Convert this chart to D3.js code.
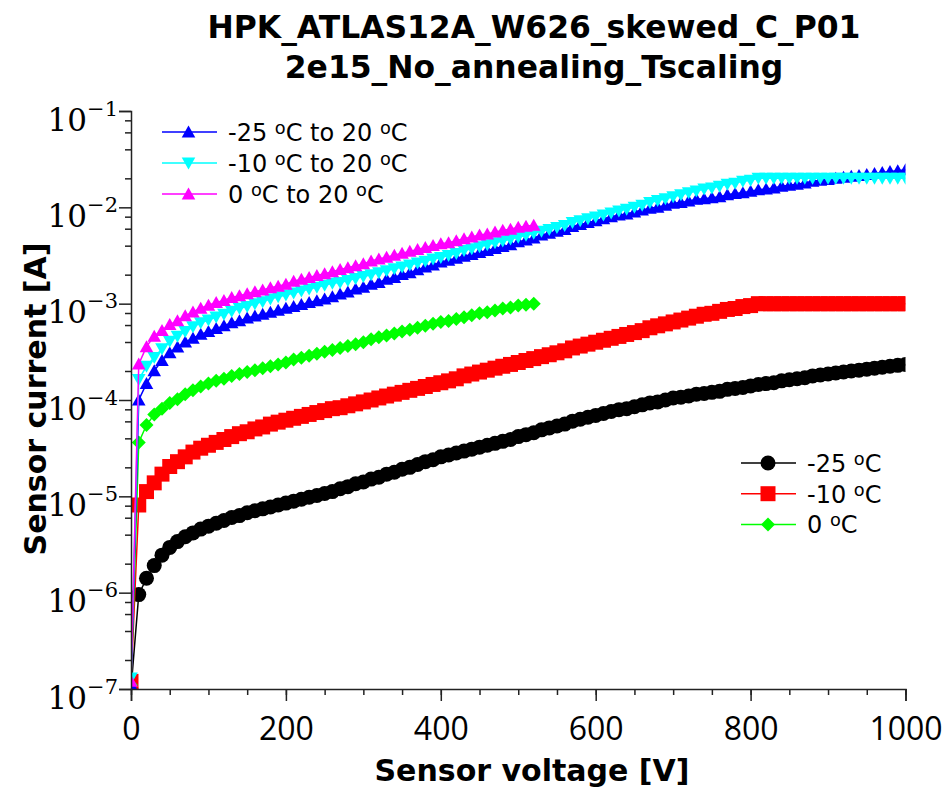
<!DOCTYPE html>
<html>
<head>
<meta charset="utf-8">
<script src="https://cdn.jsdelivr.net/npm/d3@7"></script>
<style>
  body { margin: 0; background: #fff; }
  svg { display: block; }
</style>
</head>
<body>
<script>
// bias voltage scan [V], 10 V steps
const voltage = [0, 10, 20, 30, 40, 50, 60, 70, 80, 90, 100, 110, 120, 130, 140, 150, 160, 170, 180, 190,
  200, 210, 220, 230, 240, 250, 260, 270, 280, 290, 300, 310, 320, 330, 340, 350, 360, 370, 380, 390,
  400, 410, 420, 430, 440, 450, 460, 470, 480, 490, 500, 510, 520, 530, 540, 550, 560, 570, 580, 590,
  600, 610, 620, 630, 640, 650, 660, 670, 680, 690, 700, 710, 720, 730, 740, 750, 760, 770, 780, 790,
  800, 810, 820, 830, 840, 850, 860, 870, 880, 890, 900, 910, 920, 930, 940, 950, 960, 970, 980, 990, 1000];

// measured currents [A]
const curM25 = [1.0e-7, 9.55e-7, 1.41e-6, 1.91e-6, 2.45e-6, 2.95e-6, 3.39e-6, 3.80e-6, 4.17e-6, 4.57e-6,
  4.90e-6, 5.25e-6, 5.62e-6, 6.03e-6, 6.31e-6, 6.76e-6, 7.08e-6, 7.41e-6, 7.76e-6, 8.13e-6,
  8.51e-6, 8.91e-6, 9.33e-6, 9.77e-6, 1.02e-5, 1.07e-5, 1.12e-5, 1.20e-5, 1.26e-5, 1.35e-5,
  1.41e-5, 1.51e-5, 1.58e-5, 1.70e-5, 1.78e-5, 1.91e-5, 2.00e-5, 2.14e-5, 2.29e-5, 2.40e-5,
  2.57e-5, 2.69e-5, 2.82e-5, 2.95e-5, 3.09e-5, 3.24e-5, 3.39e-5, 3.55e-5, 3.72e-5, 3.89e-5,
  4.17e-5, 4.37e-5, 4.57e-5, 4.90e-5, 5.13e-5, 5.37e-5, 5.62e-5, 6.03e-5, 6.31e-5, 6.61e-5,
  6.92e-5, 7.24e-5, 7.59e-5, 7.94e-5, 8.13e-5, 8.51e-5, 8.91e-5, 9.33e-5, 9.55e-5, 1.00e-4,
  1.05e-4, 1.07e-4, 1.10e-4, 1.15e-4, 1.17e-4, 1.20e-4, 1.23e-4, 1.29e-4, 1.32e-4, 1.35e-4,
  1.40e-4, 1.45e-4, 1.48e-4, 1.51e-4, 1.58e-4, 1.62e-4, 1.66e-4, 1.70e-4, 1.78e-4, 1.82e-4,
  1.86e-4, 1.91e-4, 1.95e-4, 2.00e-4, 2.04e-4, 2.09e-4, 2.14e-4, 2.19e-4, 2.24e-4, 2.29e-4, 2.34e-4];

const curM10 = [1.2e-7, 8.13e-6, 1.12e-5, 1.38e-5, 1.70e-5, 2.04e-5, 2.29e-5, 2.57e-5, 2.88e-5, 3.16e-5,
  3.39e-5, 3.63e-5, 3.89e-5, 4.17e-5, 4.47e-5, 4.68e-5, 5.01e-5, 5.25e-5, 5.62e-5, 5.89e-5,
  6.17e-5, 6.46e-5, 6.76e-5, 7.08e-5, 7.41e-5, 7.76e-5, 8.13e-5, 8.32e-5, 8.71e-5, 9.12e-5,
  9.55e-5, 1.00e-4, 1.05e-4, 1.10e-4, 1.15e-4, 1.20e-4, 1.26e-4, 1.32e-4, 1.38e-4, 1.45e-4,
  1.51e-4, 1.58e-4, 1.66e-4, 1.78e-4, 1.86e-4, 1.95e-4, 2.04e-4, 2.14e-4, 2.24e-4, 2.34e-4,
  2.45e-4, 2.57e-4, 2.69e-4, 2.82e-4, 2.95e-4, 3.09e-4, 3.24e-4, 3.47e-4, 3.63e-4, 3.80e-4,
  3.98e-4, 4.17e-4, 4.37e-4, 4.57e-4, 4.79e-4, 5.01e-4, 5.25e-4, 5.62e-4, 5.89e-4, 6.17e-4,
  6.46e-4, 6.76e-4, 7.08e-4, 7.41e-4, 7.76e-4, 7.94e-4, 8.32e-4, 8.71e-4, 8.91e-4, 9.33e-4,
  9.55e-4, 1.00e-3, 1.00e-3, 1.00e-3, 1.00e-3, 1.00e-3, 1.00e-3, 1.00e-3, 1.00e-3, 1.00e-3,
  1.00e-3, 1.00e-3, 1.00e-3, 1.00e-3, 1.00e-3, 1.00e-3, 1.00e-3, 1.00e-3, 1.00e-3, 1.00e-3, 1.00e-3];

const cur0 = [1.1e-7, 3.63e-5, 5.50e-5, 7.08e-5, 8.13e-5, 9.33e-5, 1.02e-4, 1.15e-4, 1.26e-4, 1.38e-4,
  1.48e-4, 1.58e-4, 1.66e-4, 1.78e-4, 1.86e-4, 1.95e-4, 2.04e-4, 2.14e-4, 2.24e-4, 2.34e-4,
  2.45e-4, 2.63e-4, 2.75e-4, 2.88e-4, 3.02e-4, 3.16e-4, 3.31e-4, 3.47e-4, 3.63e-4, 3.80e-4,
  3.98e-4, 4.27e-4, 4.47e-4, 4.68e-4, 4.90e-4, 5.13e-4, 5.37e-4, 5.62e-4, 5.89e-4, 6.17e-4,
  6.46e-4, 6.61e-4, 6.92e-4, 7.24e-4, 7.59e-4, 7.94e-4, 8.13e-4, 8.51e-4, 8.91e-4, 9.12e-4,
  9.55e-4, 9.77e-4, 1.00e-3];

// currents scaled to 20 C [A]
const scaledM25 = [1.1e-7, 1.00e-4, 1.48e-4, 2.01e-4, 2.57e-4, 3.10e-4, 3.56e-4, 3.99e-4, 4.38e-4, 4.80e-4,
  5.15e-4, 5.51e-4, 5.90e-4, 6.33e-4, 6.63e-4, 7.10e-4, 7.43e-4, 7.78e-4, 8.15e-4, 8.54e-4,
  8.94e-4, 9.36e-4, 9.80e-4, 1.03e-3, 1.07e-3, 1.12e-3, 1.18e-3, 1.26e-3, 1.32e-3, 1.42e-3,
  1.48e-3, 1.59e-3, 1.66e-3, 1.79e-3, 1.87e-3, 2.01e-3, 2.10e-3, 2.25e-3, 2.40e-3, 2.52e-3,
  2.70e-3, 2.82e-3, 2.96e-3, 3.10e-3, 3.24e-3, 3.40e-3, 3.56e-3, 3.73e-3, 3.91e-3, 4.08e-3,
  4.38e-3, 4.59e-3, 4.80e-3, 5.15e-3, 5.39e-3, 5.64e-3, 5.90e-3, 6.33e-3, 6.63e-3, 6.94e-3,
  7.27e-3, 7.60e-3, 7.97e-3, 8.34e-3, 8.54e-3, 8.94e-3, 9.36e-3, 9.80e-3, 1.00e-2, 1.05e-2,
  1.10e-2, 1.12e-2, 1.16e-2, 1.21e-2, 1.23e-2, 1.26e-2, 1.29e-2, 1.35e-2, 1.39e-2, 1.42e-2,
  1.47e-2, 1.52e-2, 1.55e-2, 1.59e-2, 1.66e-2, 1.70e-2, 1.74e-2, 1.79e-2, 1.87e-2, 1.91e-2,
  1.95e-2, 2.01e-2, 2.05e-2, 2.10e-2, 2.14e-2, 2.19e-2, 2.25e-2, 2.30e-2, 2.35e-2, 2.40e-2, 2.46e-2];

const scaledM10 = [1.3e-7, 1.63e-4, 2.24e-4, 2.76e-4, 3.40e-4, 4.08e-4, 4.58e-4, 5.14e-4, 5.76e-4, 6.32e-4,
  6.78e-4, 7.26e-4, 7.78e-4, 8.34e-4, 8.94e-4, 9.36e-4, 1.00e-3, 1.05e-3, 1.12e-3, 1.18e-3,
  1.23e-3, 1.29e-3, 1.35e-3, 1.42e-3, 1.48e-3, 1.55e-3, 1.63e-3, 1.66e-3, 1.74e-3, 1.82e-3,
  1.91e-3, 2.00e-3, 2.10e-3, 2.20e-3, 2.30e-3, 2.40e-3, 2.52e-3, 2.64e-3, 2.76e-3, 2.90e-3,
  3.02e-3, 3.16e-3, 3.32e-3, 3.56e-3, 3.72e-3, 3.90e-3, 4.08e-3, 4.28e-3, 4.48e-3, 4.68e-3,
  4.90e-3, 5.14e-3, 5.38e-3, 5.64e-3, 5.90e-3, 6.18e-3, 6.48e-3, 6.94e-3, 7.26e-3, 7.60e-3,
  7.96e-3, 8.34e-3, 8.74e-3, 9.14e-3, 9.58e-3, 1.00e-2, 1.05e-2, 1.12e-2, 1.18e-2, 1.23e-2,
  1.29e-2, 1.35e-2, 1.42e-2, 1.48e-2, 1.55e-2, 1.59e-2, 1.66e-2, 1.74e-2, 1.78e-2, 1.87e-2,
  1.91e-2, 2.00e-2, 2.00e-2, 2.00e-2, 2.00e-2, 2.00e-2, 2.00e-2, 2.00e-2, 2.00e-2, 2.00e-2,
  2.00e-2, 2.00e-2, 2.00e-2, 2.00e-2, 2.00e-2, 2.00e-2, 2.00e-2, 2.00e-2, 2.00e-2, 2.00e-2, 2.00e-2];

const scaled0 = [1.2e-7, 2.36e-4, 3.58e-4, 4.60e-4, 5.28e-4, 6.06e-4, 6.63e-4, 7.48e-4, 8.19e-4, 8.97e-4,
  9.62e-4, 1.03e-3, 1.08e-3, 1.16e-3, 1.21e-3, 1.27e-3, 1.33e-3, 1.39e-3, 1.46e-3, 1.52e-3,
  1.59e-3, 1.71e-3, 1.79e-3, 1.87e-3, 1.96e-3, 2.05e-3, 2.15e-3, 2.26e-3, 2.36e-3, 2.47e-3,
  2.59e-3, 2.78e-3, 2.91e-3, 3.04e-3, 3.19e-3, 3.33e-3, 3.49e-3, 3.65e-3, 3.83e-3, 4.01e-3,
  4.20e-3, 4.30e-3, 4.50e-3, 4.71e-3, 4.93e-3, 5.16e-3, 5.28e-3, 5.53e-3, 5.79e-3, 5.93e-3,
  6.21e-3, 6.35e-3, 6.50e-3];

const xMajorTicks = [0, 200, 400, 600, 800, 1000];
const yExponents = [-7, -6, -5, -4, -3, -2, -1];
const titleLines = ['HPK_ATLAS12A_W626_skewed_C_P01', '2e15_No_annealing_Tscaling'];

const width = 946;
const height = 790;
const plot = { left: 131, right: 905.5, top: 111, bottom: 689 };

const svg = d3.select('body').append('svg')
  .attr('width', width)
  .attr('height', height);

const x = d3.scaleLinear().domain([0, 1000]).range([plot.left, plot.right]);
const y = d3.scaleLog().domain([1e-7, 1e-1]).range([plot.bottom, plot.top]);

// marker shapes, centred on the point
const markers = {
  circle: 'M7.5,0A7.5,7.5 0 1,1 -7.5,0A7.5,7.5 0 1,1 7.5,0Z',
  square: 'M-7.5,-7.5H7.5V7.5H-7.5Z',
  diamond: 'M0,-7L7,0L0,7L-7,0Z',
  triUp: 'M0,-6.5L6.8,5.5L-6.8,5.5Z',
  triDown: 'M0,6.5L6.8,-5.5L-6.8,-5.5Z'
};

// drawing order matches the original canvas
const series = [
  { label: '-25 ºC', values: curM25, color: '#000000', marker: 'circle', legend: 2, row: 0 },
  { label: '-10 ºC', values: curM10, color: '#ff0000', marker: 'square', legend: 2, row: 1 },
  { label: '0 ºC', values: cur0, color: '#00ff00', marker: 'diamond', legend: 2, row: 2 },
  { label: '-25 ºC to 20 ºC', values: scaledM25, color: '#0000ff', marker: 'triUp', legend: 1, row: 0 },
  { label: '-10 ºC to 20 ºC', values: scaledM10, color: '#00ffff', marker: 'triDown', legend: 1, row: 1 },
  { label: '0 ºC to 20 ºC', values: scaled0, color: '#ff00ff', marker: 'triUp', legend: 1, row: 2 }
];

svg.append('defs').append('clipPath')
  .attr('id', 'frame')
  .append('rect')
  .attr('x', plot.left)
  .attr('y', plot.top - 20)
  .attr('width', plot.right - plot.left)
  .attr('height', plot.bottom - plot.top + 20);

const dataLayer = svg.append('g').attr('clip-path', 'url(#frame)');

const line = d3.line()
  .x(d => x(d[0]))
  .y(d => y(d[1]));

series.forEach(s => {
  const pts = s.values.map((v, i) => [voltage[i], v]);
  const g = dataLayer.append('g');
  g.append('path')
    .datum(pts)
    .attr('d', line)
    .attr('fill', 'none')
    .attr('stroke', s.color)
    .attr('stroke-width', 1.5);
  g.selectAll('path.mk')
    .data(pts)
    .enter().append('path')
    .attr('class', 'mk')
    .attr('d', markers[s.marker])
    .attr('transform', d => 'translate(' + x(d[0]) + ',' + y(d[1]) + ')')
    .attr('fill', s.color);
});

// x axis: minor ticks every 50 V, labelled majors every 200 V
const tickFont = '"Open Sans", "Liberation Sans", sans-serif';
const legendFont = '"DejaVu Sans", Verdana, sans-serif';

svg.append('g')
  .attr('transform', 'translate(0,' + plot.bottom + ')')
  .call(d3.axisBottom(x).tickValues(d3.range(0, 1001, 50)).tickSize(6).tickFormat(''))
  .call(g => g.select('.domain').remove());

const xAxis = svg.append('g')
  .attr('transform', 'translate(0,' + plot.bottom + ')')
  .call(d3.axisBottom(x).tickValues(xMajorTicks).tickFormat(d3.format('d'))
    .tickSizeOuter(0).tickSize(12).tickPadding(16));
xAxis.selectAll('text')
  .attr('font-family', tickFont)
  .attr('font-size', 32)
  .attr('fill', '#000');

// y axis: decades with minors at 2,4,6,8
const yMinor = [];
yExponents.slice(0, -1).forEach(e => {
  [2, 4, 6, 8].forEach(m => yMinor.push(m * Math.pow(10, e)));
});
svg.append('g')
  .attr('transform', 'translate(' + plot.left + ',0)')
  .call(d3.axisLeft(y).tickValues(yMinor).tickSize(6).tickFormat(''))
  .call(g => g.select('.domain').remove());

const yAxis = svg.append('g')
  .attr('transform', 'translate(' + plot.left + ',0)')
  .call(d3.axisLeft(y).tickValues(yExponents.map(e => Math.pow(10, e))).tickSizeOuter(0).tickSize(12).tickFormat(''));

yAxis.selectAll('.tick').each(function (d) {
  const t = d3.select(this).append('text')
    .attr('x', -13)
    .attr('y', 19)
    .attr('text-anchor', 'end')
    .attr('font-family', '"DejaVu Serif", "Liberation Serif", serif')
    .attr('fill', '#000');
  t.append('tspan').attr('font-size', 31).text('10');
  t.append('tspan').attr('font-size', 21).attr('dy', -15)
    .text('\u2212' + Math.round(-Math.log10(d)));
});

svg.selectAll('.domain').attr('stroke', '#222').attr('stroke-width', 1.5);
svg.selectAll('.tick line').attr('stroke', '#222').attr('stroke-width', 1.5);

// text with a raised small "o" for the degree sign
function degreeText(sel, str, size) {
  const parts = str.split('º');
  sel.append('tspan').text(parts[0]);
  parts.slice(1).forEach(p => {
    sel.append('tspan').attr('font-size', size * 0.74).attr('dy', -size * 0.3).text('o');
    sel.append('tspan').attr('dy', size * 0.3).text(p);
  });
}

// legends
const legendPos = {
  1: { x0: 162, x1: 217, mx: 188.5, tx: 228, y0: 132, dy: 31 },
  2: { x0: 741, x1: 796, mx: 768, tx: 807, y0: 463, dy: 30.7 }
};
const legendSize = 24;
series.forEach(s => {
  const p = legendPos[s.legend];
  const cy = p.y0 + s.row * p.dy;
  const g = svg.append('g');
  g.append('line')
    .attr('x1', p.x0).attr('x2', p.x1)
    .attr('y1', cy).attr('y2', cy)
    .attr('stroke', s.color)
    .attr('stroke-width', 1.5);
  g.append('path')
    .attr('d', markers[s.marker])
    .attr('transform', 'translate(' + p.mx + ',' + cy + ')')
    .attr('fill', s.color);
  const t = g.append('text')
    .attr('x', p.tx)
    .attr('y', cy + 9)
    .attr('font-family', legendFont)
    .attr('font-size', legendSize)
    .attr('fill', '#000');
  degreeText(t, s.label, legendSize);
});

// titles
const boldFont = '"DejaVu Sans", Verdana, sans-serif';
svg.selectAll('.title')
  .data(titleLines)
  .enter().append('text')
  .attr('class', 'title')
  .attr('x', 534)
  .attr('y', (d, i) => 38 + i * 40)
  .attr('text-anchor', 'middle')
  .attr('font-family', boldFont)
  .attr('font-weight', 'bold')
  .attr('font-size', 31.4)
  .text(d => d);

svg.append('text')
  .attr('x', 532)
  .attr('y', 781)
  .attr('text-anchor', 'middle')
  .attr('font-family', boldFont)
  .attr('font-weight', 'bold')
  .attr('font-size', 30)
  .text('Sensor voltage [V]');

svg.append('text')
  .attr('transform', 'translate(46,399) rotate(-90)')
  .attr('text-anchor', 'middle')
  .attr('font-family', boldFont)
  .attr('font-weight', 'bold')
  .attr('font-size', 30)
  .text('Sensor current [A]');
</script>
</body>
</html>
